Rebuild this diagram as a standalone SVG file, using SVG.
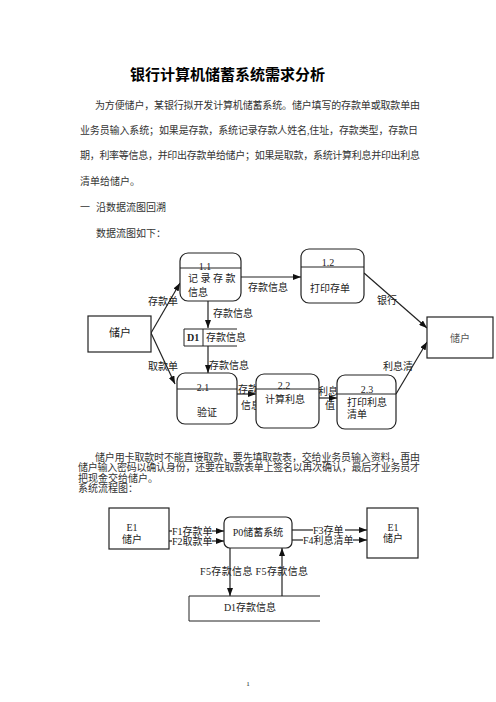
<svg xmlns="http://www.w3.org/2000/svg" width="496" height="702" viewBox="0 0 496 702">
<defs>
<style>
text{font-family:"Liberation Serif","Noto Sans CJK SC",serif;fill:#222;font-size:10px}
.t{font-family:"Noto Sans CJK SC",sans-serif;font-weight:bold;font-size:15px;fill:#000}
.p{font-size:10px;fill:#333}
.m{text-anchor:middle}
.b{font-weight:bold}
.s{fill:none;stroke:#222;stroke-width:1}
.box{fill:#fff;stroke:#222;stroke-width:1.2}
.ln{stroke:#222;stroke-width:1.2;fill:none}
</style>
<marker id="ah" viewBox="0 0 8 6" refX="8" refY="3" markerWidth="8" markerHeight="6" orient="auto" markerUnits="userSpaceOnUse">
<path d="M0,0 L8,3 L0,6 z" fill="#111"/>
</marker>
</defs>
<rect width="496" height="702" fill="#fff"/>

<g id="text-top">
<text class="t" x="130" y="80" textLength="195" lengthAdjust="spacing">银行计算机储蓄系统需求分析</text>
<text class="p" x="95" y="109" textLength="325" lengthAdjust="spacing">为方便储户，某银行拟开发计算机储蓄系统。储户填写的存款单或取款单由</text>
<text class="p" x="80" y="134" textLength="338" lengthAdjust="spacing">业务员输入系统；如果是存款，系统记录存款人姓名,住址，存款类型，存款日</text>
<text class="p" x="80" y="159" textLength="340" lengthAdjust="spacing">期，利率等信息，并印出存款单给储户；如果是取款，系统计算利息并印出利息</text>
<text class="p" x="80" y="185">清单给储户。</text>
<text class="p" x="80" y="211">一</text>
<text class="p" x="96" y="211">沿数据流图回溯</text>
<text class="p" x="96" y="237">数据流图如下：</text>
</g>

<g id="connectors-dfd">
<line class="ln" x1="241" y1="277" x2="301" y2="277" marker-end="url(#ah)"/>
<line class="ln" x1="364" y1="273" x2="427" y2="328" marker-end="url(#ah)"/>
<line class="ln" x1="151" y1="333" x2="180" y2="283" marker-end="url(#ah)"/>
<line class="ln" x1="151" y1="333" x2="175" y2="384" marker-end="url(#ah)"/>
<line class="ln" x1="208" y1="301" x2="208" y2="328" marker-end="url(#ah)"/>
<line class="ln" x1="208" y1="346" x2="208" y2="373" marker-end="url(#ah)"/>
<line class="ln" x1="237" y1="394" x2="256" y2="394" marker-end="url(#ah)"/>
<line class="ln" x1="319" y1="398" x2="337" y2="398" marker-end="url(#ah)"/>
<line class="ln" x1="396" y1="394" x2="427" y2="342" marker-end="url(#ah)"/>
<text x="248" y="291">存款信息</text>
<text x="377" y="304">银行</text>
<text x="148" y="305">存款单</text>
<text x="148" y="370">取款单</text>
<text x="213" y="317">存款信息</text>
<text x="209" y="369">存款信息</text>
<text x="238" y="393">存款</text>
<text x="241" y="409">信息</text>
<text x="318" y="395">利息</text>
<text x="325" y="409">值</text>
<text x="383" y="370">利息清</text>
</g>

<g id="n-user-left">
<rect class="box" x="88" y="316" width="63" height="36"/>
<text class="m" x="120" y="337" style="font-size:11px">储户</text>
</g>
<g id="n-1-1">
<rect class="box" x="180" y="253" width="61" height="48" rx="8"/>
<line class="s" x1="180" y1="268" x2="241" y2="268"/>
<text class="m" x="205" y="270">1.1</text>
<text x="188" y="282">记 录 存 款</text>
<text x="188" y="296">信息</text>
</g>
<g id="n-1-2">
<rect class="box" x="301" y="249" width="63" height="54" rx="8"/>
<line class="s" x1="301" y1="267" x2="364" y2="267"/>
<text class="m" x="328" y="266">1.2</text>
<text x="310" y="292">打印存单</text>
</g>
<g id="n-user-right">
<rect class="box" x="427" y="317" width="66" height="41"/>
<text class="m" x="460" y="342" style="fill:#555">储户</text>
</g>
<g id="n-d1">
<line class="s" x1="184" y1="329" x2="237" y2="329"/>
<line class="s" x1="184" y1="346" x2="237" y2="346"/>
<line class="s" x1="184" y1="329" x2="184" y2="346"/>
<line class="s" x1="203" y1="329" x2="203" y2="346"/>
<text class="b" x="187" y="341">D1</text>
<text x="206" y="341">存款信息</text>
</g>
<g id="n-2-1">
<rect class="box" x="177" y="373" width="60" height="51" rx="8"/>
<line class="s" x1="177" y1="389" x2="237" y2="389"/>
<text class="m" x="203" y="391">2.1</text>
<text class="m" x="207" y="416">验证</text>
</g>
<g id="n-2-2">
<rect class="box" x="256" y="374" width="63" height="54" rx="8"/>
<line class="s" x1="256" y1="389" x2="319" y2="389"/>
<text class="m" x="284" y="389">2.2</text>
<text x="265" y="403">计算利息</text>
</g>
<g id="n-2-3">
<rect class="box" x="337" y="375" width="59" height="54" rx="8"/>
<line class="s" x1="337" y1="394" x2="396" y2="394"/>
<text class="m" x="367" y="393">2.3</text>
<text x="347" y="406">打印利息</text>
<text x="347" y="418">清单</text>
</g>

<g id="text-mid">
<text class="p" x="95" y="461" textLength="325" lengthAdjust="spacing">储户用卡取款时不能直接取款，要先填取款表，交给业务员输入资料，再由</text>
<text class="p" x="78" y="471" textLength="342" lengthAdjust="spacing">储户输入密码以确认身份，还要在取款表单上签名以再次确认，最后才业务员才</text>
<text class="p" x="78" y="482">把现金交给储户。</text>
<text class="p" x="78" y="492">系统流程图：</text>
</g>

<g id="connectors-sys">
<line class="ln" x1="169" y1="531" x2="172" y2="531"/>
<line class="ln" x1="212" y1="531" x2="224" y2="531" marker-end="url(#ah)"/>
<line class="ln" x1="169" y1="541" x2="172" y2="541"/>
<line class="ln" x1="212" y1="541" x2="224" y2="541" marker-end="url(#ah)"/>
<line class="ln" x1="292" y1="530" x2="313" y2="530"/>
<line class="ln" x1="345" y1="530" x2="367" y2="530" marker-end="url(#ah)"/>
<line class="ln" x1="292" y1="540" x2="303" y2="540"/>
<line class="ln" x1="353" y1="540" x2="367" y2="540" marker-end="url(#ah)"/>
<line class="ln" x1="230" y1="548" x2="230" y2="596" marker-end="url(#ah)"/>
<line class="ln" x1="282" y1="596" x2="282" y2="548" marker-end="url(#ah)"/>
<text x="172" y="535">F1存款单</text>
<text x="172" y="545">F2取款单</text>
<text x="313" y="534">F3存单</text>
<text x="303" y="544">F4利息清单</text>
<text x="200" y="575" textLength="108" lengthAdjust="spacing">F5存款信息 F5存款信息</text>
</g>

<g id="s-e1-left">
<rect class="box" x="109" y="508" width="60" height="41"/>
<text class="m" x="132" y="531">E1</text>
<text class="m" x="132" y="543">储户</text>
</g>
<g id="s-p0">
<rect class="box" x="224" y="517" width="68" height="31" rx="6"/>
<text class="m" x="258" y="536">P0储蓄系统</text>
</g>
<g id="s-e1-right">
<rect class="box" x="367" y="508" width="51" height="50"/>
<text class="m" x="393" y="531">E1</text>
<text class="m" x="393" y="542">储户</text>
</g>
<g id="s-d1">
<line class="s" x1="189" y1="596" x2="320" y2="596"/>
<line class="s" x1="189" y1="621" x2="320" y2="621"/>
<line class="s" x1="189" y1="596" x2="189" y2="621"/>
<text class="m" x="250" y="611">D1存款信息</text>
</g>

<text class="m" x="248" y="686" style="font-size:7px">1</text>
</svg>
